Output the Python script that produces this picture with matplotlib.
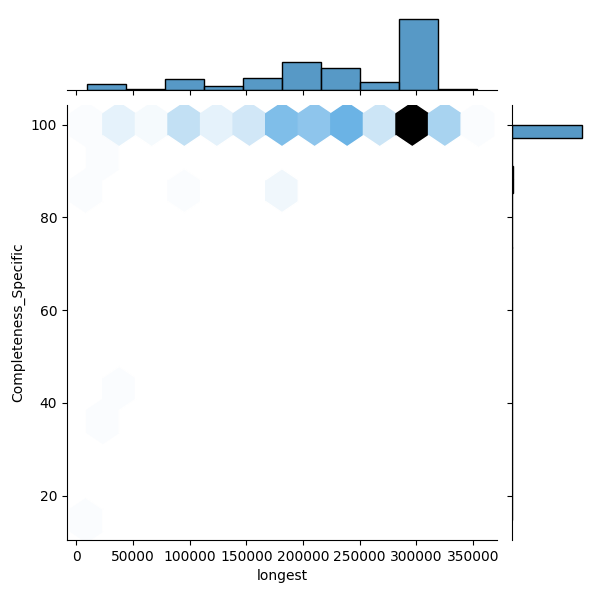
import colorsys
import numpy as np
import matplotlib
matplotlib.use("Agg")
import matplotlib.pyplot as plt
import matplotlib.colors as mcolors
import seaborn as sns

# Observations grouped as (longest, Completeness_Specific) with their counts
longest = [15000, 36000, 48000, 79000, 95000, 125000, 155000, 175000, 188000,
           205000, 220000, 238000, 265000, 284000, 298000, 315000, 354000,
           12000, 24000, 95000, 180000, 180000, 180000, 38000, 22000, 9000]
completeness = [100, 100, 100, 100, 100, 100, 100, 100, 100,
                100, 100, 100, 100, 100, 100, 100, 100,
                88, 90, 87, 86, 89, 90, 40, 39, 14.7]
counts = [1, 3, 2, 2, 12, 5, 9, 5, 20,
          20, 2, 29, 10, 1, 84, 17, 1,
          1, 1, 1, 1, 1, 1, 1, 1, 1]

x = np.repeat(np.asarray(longest, float), counts)
y = np.repeat(np.asarray(completeness, float), counts)

color = "C0"
rgb = mcolors.to_rgb(color)
h, l, s = colorsys.rgb_to_hls(*rgb)
pal = [colorsys.hls_to_rgb(h, v, s) for v in np.linspace(1, 0, 12)]
cmap = mcolors.LinearSegmentedColormap.from_list("blend", pal)

g = sns.JointGrid(x=x, y=y, height=6, ratio=5, space=0.2)
g.ax_joint.hexbin(x, y, gridsize=12, cmap=cmap)
sns.histplot(x=x, bins=10, ax=g.ax_marg_x, color=color)
sns.histplot(y=y, bins=29, ax=g.ax_marg_y, color=color)
g.set_axis_labels("longest", "Completeness_Specific")
g.ax_joint.set_xticks([0, 50000, 100000, 150000, 200000, 250000, 300000, 350000])
g.ax_joint.set_xticklabels(["0", "50000", "100000", "150000", "200000", "250000", "300000", "350000"])

g.figure.set_size_inches(6, 6)
g.figure.subplots_adjust(left=0.1117, right=0.9765, bottom=0.1, top=0.975,
                         hspace=0.2, wspace=0.2)
g.figure.savefig("out.png", dpi=100)
